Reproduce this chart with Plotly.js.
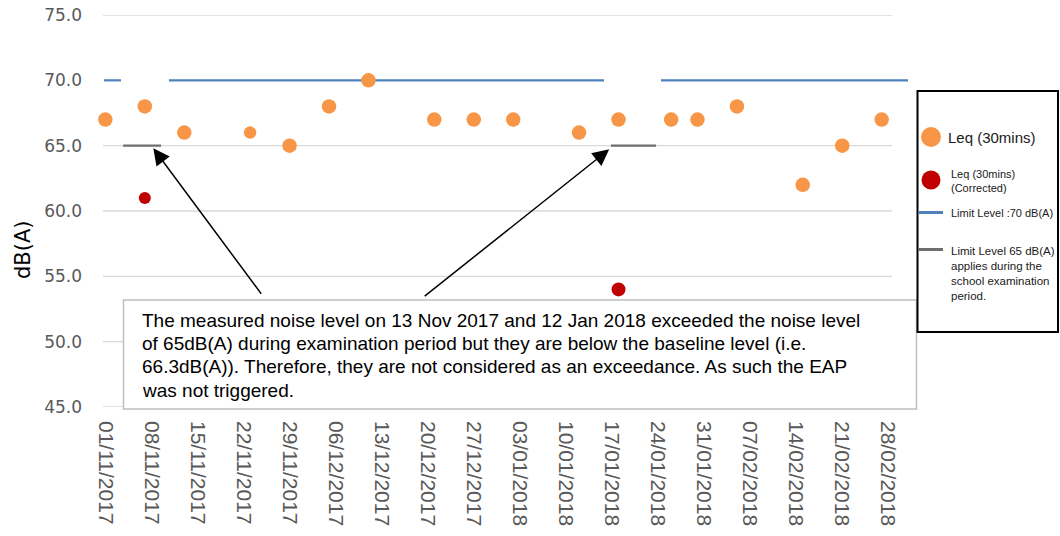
<!DOCTYPE html>
<html>
<head>
<meta charset="utf-8">
<script src="https://cdn.plot.ly/plotly-3.0.1.min.js"></script>
<style>html,body{margin:0;padding:0;background:#fff;}#chart{width:1060px;height:536px;}</style>
</head>
<body>
<div id="chart"></div>
<script>
// ---- data ----
const leqDates = ['2017-11-01','2017-11-07','2017-11-13','2017-11-23','2017-11-29','2017-12-05','2017-12-11','2017-12-21','2017-12-27','2018-01-02','2018-01-12','2018-01-18','2018-01-26','2018-01-30','2018-02-05','2018-02-15','2018-02-21','2018-02-27'];
const leqValues = [67,68,66,66,65,68,70,67,67,67,66,67,67,67,68,62,65,67];
const correctedDates = ['2017-11-07','2018-01-18'];
const correctedValues = [61,54];
const limit70Dates = ['2017-10-31 19:00','2017-11-03 09:00','2017-11-03 09:00','2017-11-10 16:00','2018-01-15 19:00','2018-01-15 19:00','2018-01-24 11:00','2018-03-03 00:00'];
const limit70Values = [70,70,null,70,70,null,70,70];
const limit65Dates = ['2017-11-03 17:00','2017-11-09 11:00','2017-11-09 11:00','2018-01-16 20:00','2018-01-23 17:00'];
const limit65Values = [65,65,null,65,65];
const gridValues = [45,50,55,60,65,75];
const tickFormat = '%d/%m/%Y';
const noteLines = [
  'The measured noise level on 13 Nov 2017 and 12 Jan 2018 exceeded the noise level',
  'of 65dB(A) during examination period but they are below the baseline level (i.e.',
  '66.3dB(A)). Therefore, they are not considered as an exceedance. As such the EAP',
  'was not triggered.'
];

// ---- geometry ----
const W = 1060, H = 536, ML = 103, MR = 152, MT = 15, MB = 129;
const PW = W - ML - MR, PH = H - MT - MB;
const px = X => (X - ML) / PW;
const py = Y => (H - MB - Y) / PH;
const X_START = '2017-10-31 15:30', X_END = '2018-03-03 00:00', GRID_END = '2018-02-28 13:30';

const orange = '#F79646', red = '#C00000', blue = '#4F81BD', gray = '#6E6E6E';

const traces = [
  {x: limit70Dates, y: limit70Values, mode: 'lines', line: {color: blue, width: 2.2}, connectgaps: false, hoverinfo: 'skip', name: 'Limit Level :70 dB(A)'},
  {x: limit65Dates, y: limit65Values, mode: 'lines', line: {color: gray, width: 2.2}, connectgaps: false, hoverinfo: 'skip', name: 'Limit Level 65 dB(A)'},
  {x: leqDates, y: leqValues, mode: 'markers', name: 'Leq (30mins)',
   marker: {color: orange, opacity: 1, line: {width: 0}, size: leqValues.map((v, i) => i === 3 ? 12.5 : 14.5)}, cliponaxis: false},
  {x: correctedDates, y: correctedValues, mode: 'markers', name: 'Leq (30mins) (Corrected)',
   marker: {color: red, opacity: 1, line: {width: 0}, size: [12, 14]}, cliponaxis: false}
];

const shapes = gridValues.map(v => ({type: 'line', xref: 'x', yref: 'y', x0: X_START, x1: GRID_END, y0: v, y1: v, line: {color: '#D9D9D9', width: 1.3}, layer: 'below'}));
// note box
shapes.push({type: 'rect', xref: 'paper', yref: 'paper', x0: px(123.5), x1: px(916.5), y0: py(409), y1: py(300), line: {color: '#BFBFBF', width: 1.5}, fillcolor: '#FFFFFF', layer: 'above'});
// legend box
shapes.push({type: 'rect', xref: 'paper', yref: 'paper', x0: px(917.5), x1: px(1058), y0: py(332), y1: py(91), line: {color: '#000000', width: 2}, fillcolor: 'rgba(0,0,0,0)', layer: 'above'});
shapes.push({type: 'circle', xref: 'paper', yref: 'paper', x0: px(921), x1: px(941), y0: py(147), y1: py(127), line: {width: 0}, fillcolor: orange, layer: 'above'});
shapes.push({type: 'circle', xref: 'paper', yref: 'paper', x0: px(921.5), x1: px(940.5), y0: py(189.5), y1: py(170.5), line: {width: 0}, fillcolor: red, layer: 'above'});
shapes.push({type: 'line', xref: 'paper', yref: 'paper', x0: px(918), x1: px(943), y0: py(212.5), y1: py(212.5), line: {color: blue, width: 3}, layer: 'above'});
shapes.push({type: 'line', xref: 'paper', yref: 'paper', x0: px(918), x1: px(943), y0: py(249.5), y1: py(249.5), line: {color: gray, width: 3}, layer: 'above'});

const lf = 'Liberation Sans, Arial, sans-serif';
const annotations = [
  {xref: 'paper', yref: 'paper', x: px(23), y: py(250), xanchor: 'center', yanchor: 'middle', text: 'dB(A)', textangle: -90, showarrow: false, font: {family: 'DejaVu Sans, sans-serif', size: 21, color: '#000'}},
  {xref: 'x', yref: 'y', x: '2017-11-08 07:00', y: 64.8, ax: 109, ay: 147, text: '', showarrow: true, arrowhead: 2, arrowsize: 2.2, arrowwidth: 1.5, arrowcolor: '#000'},
  {xref: 'x', yref: 'y', x: '2018-01-16 14:00', y: 64.72, ax: -186, ay: 148, text: '', showarrow: true, arrowhead: 2, arrowsize: 2.2, arrowwidth: 1.5, arrowcolor: '#000'},
  {xref: 'paper', yref: 'paper', x: px(946), y: py(137), xanchor: 'left', yanchor: 'middle', align: 'left', text: 'Leq (30mins)', showarrow: false, font: {family: lf, size: 15, color: '#1A1A1A'}},
  {xref: 'paper', yref: 'paper', x: px(949), y: py(181), xanchor: 'left', yanchor: 'middle', align: 'left', text: 'Leq (30mins)<br>(Corrected)', showarrow: false, font: {family: lf, size: 11, color: '#1A1A1A'}},
  {xref: 'paper', yref: 'paper', x: px(949), y: py(212.5), xanchor: 'left', yanchor: 'middle', align: 'left', text: 'Limit Level :70 dB(A)', showarrow: false, font: {family: lf, size: 11, color: '#1A1A1A'}},
  {xref: 'paper', yref: 'paper', x: px(949), y: py(273), xanchor: 'left', yanchor: 'middle', align: 'left', text: 'Limit Level 65 dB(A)<br>applies during the<br>school examination<br>period.', showarrow: false, font: {family: lf, size: 11.5, color: '#1A1A1A'}}
];
noteLines.forEach((t, i) => annotations.push({
  xref: 'paper', yref: 'paper', x: px(140), y: py(320 + i * 23.4), xanchor: 'left', yanchor: 'middle', align: 'left',
  text: t, showarrow: false, font: {family: lf, size: 19, color: '#000'}
}));

const layout = {
  width: W, height: H,
  margin: {l: ML, r: MR, t: MT, b: MB, pad: 0},
  paper_bgcolor: '#FFFFFF', plot_bgcolor: '#FFFFFF',
  showlegend: false,
  xaxis: {type: 'date', range: [X_START, X_END], tick0: '2017-11-01', dtick: 7 * 86400000, tickformat: tickFormat,
    tickangle: 90, showgrid: false, zeroline: false, showline: false, ticks: '', ticklabelstandoff: 13,
    tickfont: {family: lf, size: 21, color: '#595959'}},
  yaxis: {range: [45, 75], tick0: 45, dtick: 5, tickformat: '.1f', showgrid: false, zeroline: false, showline: false, ticks: '',
    ticklabelstandoff: 20, tickfont: {family: 'DejaVu Sans, sans-serif', size: 17, color: '#595959'}},
  shapes: shapes,
  annotations: annotations
};

Plotly.newPlot('chart', traces, layout, {displayModeBar: false, staticPlot: true});
</script>
</body>
</html>
